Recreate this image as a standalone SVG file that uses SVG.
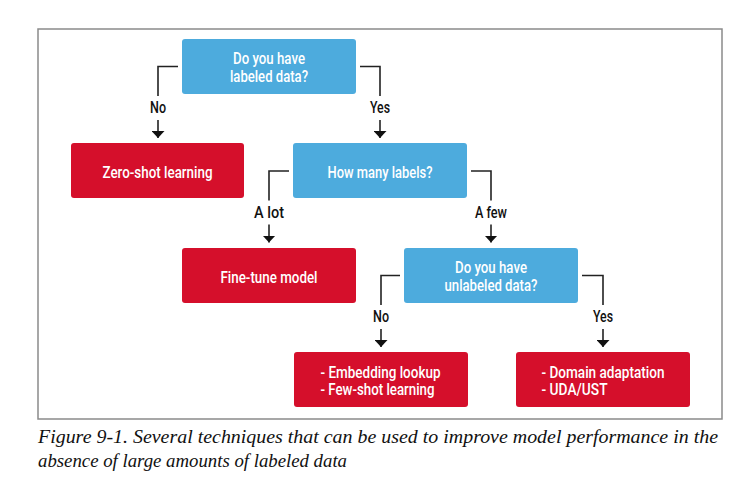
<svg xmlns="http://www.w3.org/2000/svg" width="754" height="484" viewBox="0 0 754 484">
<style>
.q{fill:#4DABDD}
.r{fill:#D50F2B}
.bt{font-family:Roboto,"Liberation Sans",sans-serif;font-size:16.5px;font-weight:500;fill:#fff;text-anchor:middle}
.bl{font-family:Roboto,"Liberation Sans",sans-serif;font-size:16.5px;font-weight:500;fill:#fff}
.lb{font-family:Roboto,"Liberation Sans",sans-serif;font-size:16.5px;font-weight:500;fill:#111;text-anchor:middle}
.ln{fill:none;stroke:#222;stroke-width:1.6}
.cap{font-family:"Liberation Serif",serif;font-style:italic;font-size:18.5px;fill:#111}
</style>
<defs>
<marker id="ah" viewBox="0 0 7 13" refX="7" refY="6.5" markerWidth="7" markerHeight="13" markerUnits="userSpaceOnUse" orient="auto">
<path d="M0,0 L7,6.5 L0,13 Z" fill="#111"/>
</marker>
</defs>
<rect x="38" y="29" width="684" height="390" fill="#fff" stroke="#8a8a8a" stroke-width="1.5"/>
<g id="connectors">
<polyline class="ln" points="178,66.5 158,66.5 158,96"/>
<line class="ln" x1="158" y1="120" x2="158" y2="138" marker-end="url(#ah)"/>
<polyline class="ln" points="360,66.5 380,66.5 380,96"/>
<line class="ln" x1="380" y1="120" x2="380" y2="138" marker-end="url(#ah)"/>
<polyline class="ln" points="289,171 269,171 269,200.5"/>
<line class="ln" x1="269" y1="224.5" x2="269" y2="242.5" marker-end="url(#ah)"/>
<polyline class="ln" points="471,171 491,171 491,200.5"/>
<line class="ln" x1="491" y1="224.5" x2="491" y2="242.5" marker-end="url(#ah)"/>
<polyline class="ln" points="400,275.5 381,275.5 381,305"/>
<line class="ln" x1="381" y1="329" x2="381" y2="347" marker-end="url(#ah)"/>
<polyline class="ln" points="582,275.5 603,275.5 603,305"/>
<line class="ln" x1="603" y1="329" x2="603" y2="347" marker-end="url(#ah)"/>
<text class="lb" x="158" y="113" textLength="16" lengthAdjust="spacingAndGlyphs">No</text>
<text class="lb" x="380" y="113" textLength="20" lengthAdjust="spacingAndGlyphs">Yes</text>
<text class="lb" x="269" y="217.5" textLength="30" lengthAdjust="spacingAndGlyphs">A lot</text>
<text class="lb" x="491" y="217.5" textLength="32" lengthAdjust="spacingAndGlyphs">A few</text>
<text class="lb" x="381" y="322" textLength="16" lengthAdjust="spacingAndGlyphs">No</text>
<text class="lb" x="603" y="322" textLength="20" lengthAdjust="spacingAndGlyphs">Yes</text>
</g>
<g id="q1">
<rect class="q" x="182" y="39" width="174" height="55" rx="3"/>
<text class="bt" x="269" y="64" textLength="72" lengthAdjust="spacingAndGlyphs">Do you have</text>
<text class="bt" x="269" y="81.5" textLength="78" lengthAdjust="spacingAndGlyphs">labeled data?</text>
</g>
<g id="zero">
<rect class="r" x="71" y="143" width="173" height="55" rx="3"/>
<text class="bt" x="157.5" y="178" textLength="110" lengthAdjust="spacingAndGlyphs">Zero-shot learning</text>
</g>
<g id="q2">
<rect class="q" x="293" y="143" width="174" height="55" rx="3"/>
<text class="bt" x="380" y="178" textLength="105" lengthAdjust="spacingAndGlyphs">How many labels?</text>
</g>
<g id="finetune">
<rect class="r" x="182" y="248" width="174" height="55" rx="3"/>
<text class="bt" x="269" y="282.5" textLength="97" lengthAdjust="spacingAndGlyphs">Fine-tune model</text>
</g>
<g id="q3">
<rect class="q" x="404" y="248" width="174" height="55" rx="3"/>
<text class="bt" x="491" y="273" textLength="72" lengthAdjust="spacingAndGlyphs">Do you have</text>
<text class="bt" x="491" y="290.5" textLength="93" lengthAdjust="spacingAndGlyphs">unlabeled data?</text>
</g>
<g id="embed">
<rect class="r" x="294" y="352" width="174" height="55" rx="3"/>
<text class="bl" x="320.5" y="377.5" textLength="120" lengthAdjust="spacingAndGlyphs">- Embedding lookup</text>
<text class="bl" x="320.5" y="395" textLength="114" lengthAdjust="spacingAndGlyphs">- Few-shot learning</text>
</g>
<g id="domain">
<rect class="r" x="516" y="352" width="174" height="55" rx="3"/>
<text class="bl" x="541.5" y="377.5" textLength="123" lengthAdjust="spacingAndGlyphs">- Domain adaptation</text>
<text class="bl" x="541.5" y="395" textLength="66" lengthAdjust="spacingAndGlyphs">- UDA/UST</text>
</g>
<g id="caption">
<text class="cap" x="38" y="443" textLength="680" lengthAdjust="spacingAndGlyphs">Figure 9-1. Several techniques that can be used to improve model performance in the</text>
<text class="cap" x="38" y="467" textLength="309" lengthAdjust="spacingAndGlyphs">absence of large amounts of labeled data</text>
</g>
</svg>
